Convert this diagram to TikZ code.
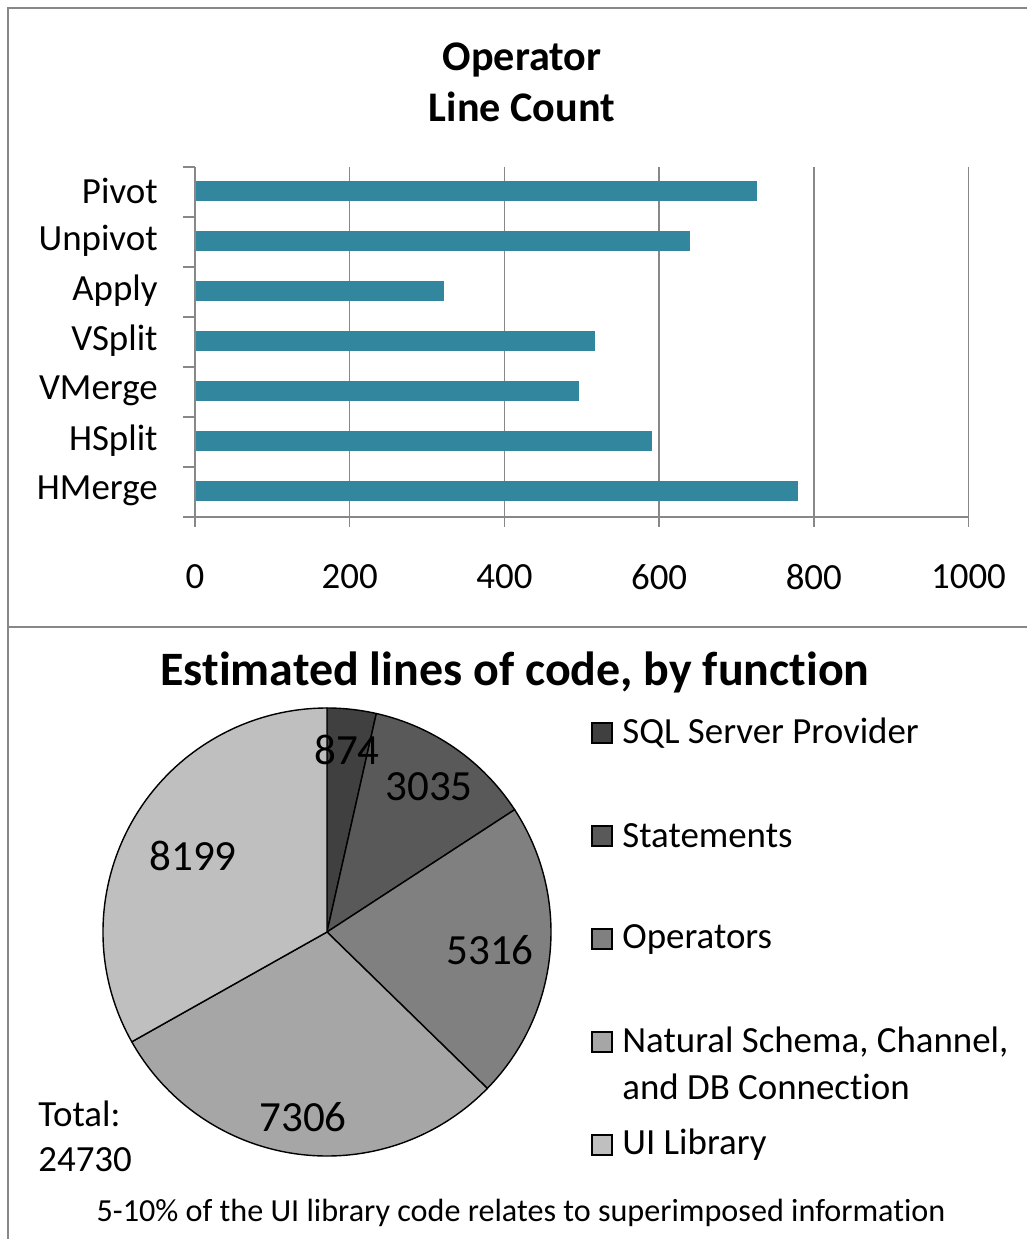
\documentclass[tikz,border=0pt]{standalone}
\usepackage{fontspec}
\setmainfont{Carlito}[Ligatures=NoCommon]

\definecolor{barteal}{RGB}{50,134,157}
\definecolor{framegray}{RGB}{136,136,136}
\definecolor{sqlgray}{RGB}{64,64,64}
\definecolor{stmtgray}{RGB}{89,89,89}
\definecolor{opgray}{RGB}{128,128,128}
\definecolor{schemagray}{RGB}{166,166,166}
\definecolor{uigray}{RGB}{191,191,191}

\tikzset{
	lbl/.style={font=\fontsize{21}{25}\selectfont, inner sep=0pt},
	piefig/.style={font=\fontsize{24.5}{29}\selectfont, inner sep=0pt},
	ttl/.style={font=\bfseries\fontsize{24}{29}\selectfont, inner sep=0pt, align=center},
	legbox/.style={draw=black, line width=0.6pt},
	slice/.style={draw=black, line width=0.8pt, line join=round},
	axisline/.style={framegray, line width=1.1pt}
}

\begin{document}
\begin{tikzpicture}[x=0.02cm,y=-0.02cm]

	\useasboundingbox (0,0) rectangle (1027,1239);

	% frame
	\draw[framegray, line width=1.2pt] (8,1239) -- (8,8) -- (1027,8);
	\draw[framegray, line width=1.2pt] (8,627) -- (1027,627);

	% bar chart
	\node[ttl] (bartitle) at (522,82) {Operator\\Line Count};

	\foreach \x in {200,400,...,1000}
		\draw[axisline, line width=0.8pt] ({195+\x*0.7735},167) -- ({195+\x*0.7735},527);
	\draw[axisline] (183,517) -- (968,517);
	\draw[axisline] (195,167) -- (195,527);
	\foreach \i in {0,...,6}
		\draw[axisline] (183,{167+\i*50}) -- (195,{167+\i*50});

	\foreach \name/\val [count=\i] in {Pivot/726, Unpivot/640, Apply/322, VSplit/517, VMerge/496, HSplit/591, HMerge/780} {
		\fill[barteal] (196,{181+(\i-1)*50}) rectangle ({195+\val*0.7735},{201+(\i-1)*50});
		\node[lbl, anchor=east] (cat\i) at (158,{191+(\i-1)*50}) {\name};
	}

	\foreach \x in {0,200,...,1000}
		\node[lbl] (tick\x) at ({195+\x*0.7735},577) {\x};

	% pie chart
	\node[ttl, font=\bfseries\fontsize{27.3}{33}\selectfont] (pietitle) at (515,672) {Estimated lines of code, by function};

	\begin{scope}[shift={(327,932)}]
		\filldraw[slice, fill=sqlgray] (0,0) -- (-90:224) arc[start angle=-90, end angle=-77.28, radius=224] -- cycle;
		\filldraw[slice, fill=stmtgray] (0,0) -- (-77.28:224) arc[start angle=-77.28, end angle=-33.10, radius=224] -- cycle;
		\filldraw[slice, fill=opgray] (0,0) -- (-33.10:224) arc[start angle=-33.10, end angle=44.29, radius=224] -- cycle;
		\filldraw[slice, fill=schemagray] (0,0) -- (44.29:224) arc[start angle=44.29, end angle=150.65, radius=224] -- cycle;
		\filldraw[slice, fill=uigray] (0,0) -- (150.65:224) arc[start angle=150.65, end angle=270, radius=224] -- cycle;
	\end{scope}

	\node[piefig] (sql) at (347,750) {874};
	\node[piefig] (stmt) at (429,787) {3035};
	\node[piefig] (ops) at (490,950) {5316};
	\node[piefig] (schema) at (303,1117) {7306};
	\node[piefig] (ui) at (193,856) {8199};

	% legend
	\draw[legbox, fill=sqlgray] (592,723) rectangle (612,743);
	\node[lbl, anchor=west] (legsql) at (622,733) {SQL Server Provider};
	\draw[legbox, fill=stmtgray] (592,826) rectangle (612,846);
	\node[lbl, anchor=west] (legstmt) at (622,836) {Statements};
	\draw[legbox, fill=opgray] (592,929) rectangle (612,949);
	\node[lbl, anchor=west] (legops) at (622,939) {Operators};
	\draw[legbox, fill=schemagray] (592,1032) rectangle (612,1052);
	\node[lbl, anchor=west] (legschema) at (622,1042) {Natural Schema, Channel,};
	\node[lbl, anchor=west] (legschemab) at (622,1087) {and DB Connection};
	\draw[legbox, fill=uigray] (592,1135) rectangle (612,1155);
	\node[lbl, anchor=west] (legui) at (622,1145) {UI Library};

	\node[lbl, anchor=west] (total) at (38,1114) {Total:};
	\node[lbl, anchor=west] (totalval) at (38,1160) {24730};

	\node[lbl, font=\fontsize{18.3}{22}\selectfont] (note) at (521,1213) {5-10\% of the UI library code relates to superimposed information};

\end{tikzpicture}
\end{document}
